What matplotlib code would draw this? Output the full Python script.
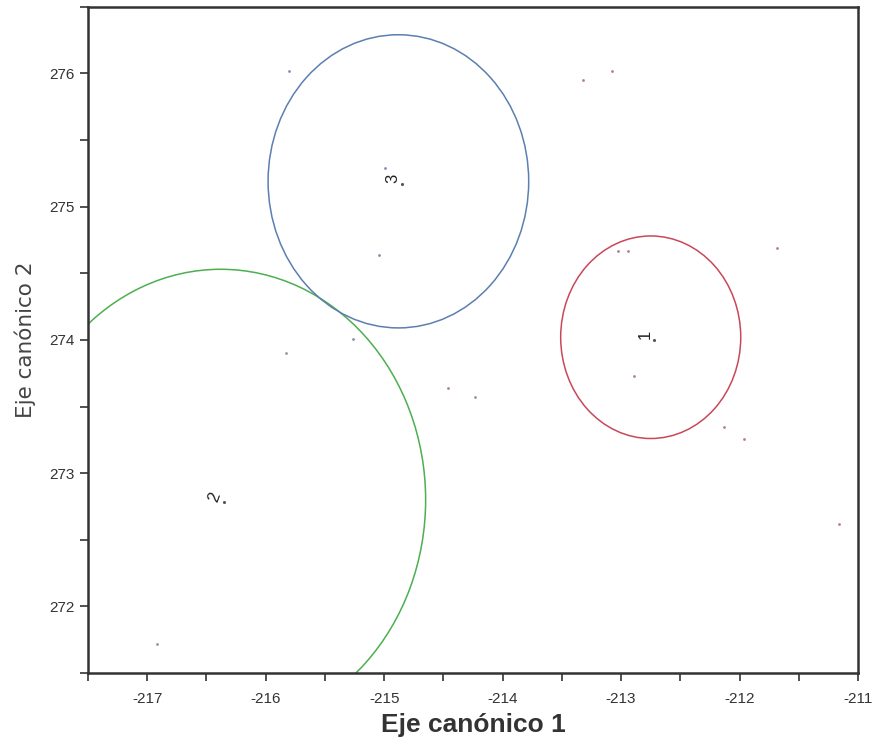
import matplotlib
matplotlib.use("Agg")
import matplotlib.pyplot as plt
from matplotlib.patches import Circle
from matplotlib.ticker import MultipleLocator

plt.rcParams["axes.unicode_minus"] = False
plt.rcParams["font.family"] = ["Liberation Sans", "DejaVu Sans"]

# Group centroids on the two canonical axes and their confidence radii
groups = ["1", "2", "3"]
centre_x = [-212.75, -216.38, -214.88]
centre_y = [274.02, 272.80, 275.19]
radius = [0.76, 1.73, 1.10]
ring_colors = ["#c8485a", "#4caf50", "#5b7fb0"]
label_rot = [90, 70, 90]

# Individual observations per group
obs1_x = [-213.32, -213.08, -213.03, -212.94, -211.68, -212.89, -212.13, -211.96, -214.46, -211.16]
obs1_y = [275.95, 276.02, 274.67, 274.67, 274.69, 273.73, 273.35, 273.26, 273.64, 272.62]
obs2_x = [-215.83, -214.23, -216.92]
obs2_y = [273.90, 273.57, 271.72]
obs3_x = [-215.80, -214.99, -215.04, -215.26]
obs3_y = [276.02, 275.29, 274.64, 274.01]

fig = plt.figure(figsize=(8.75, 7.52), dpi=100)
ax = fig.add_axes([0.1006, 0.105, 0.880, 0.886])

ax.scatter(obs1_x, obs1_y, s=4, color="#b08088", linewidths=0)
ax.scatter(obs2_x, obs2_y, s=4, color="#909a92", linewidths=0)
ax.scatter(obs3_x, obs3_y, s=4, color="#8090b0", linewidths=0)

for g, cx, cy, r, col, rot in zip(groups, centre_x, centre_y, radius, ring_colors, label_rot):
    ax.add_patch(Circle((cx, cy), r, fill=False, edgecolor=col, linewidth=1.1))
    ax.scatter([cx + 0.03], [cy - 0.02], s=5, color="#555555", linewidths=0)
    ax.text(cx - 0.05, cy + 0.02, g, rotation=rot, ha="center", va="center",
            fontsize=12, color="#222222")

ax.set_xlim(-217.5, -211)
ax.set_ylim(271.5, 276.5)
ax.xaxis.set_major_locator(MultipleLocator(1))
ax.xaxis.set_minor_locator(MultipleLocator(0.5))
ax.yaxis.set_major_locator(MultipleLocator(1))
ax.yaxis.set_minor_locator(MultipleLocator(0.5))
ax.tick_params(which="both", direction="out", length=6, width=1.2, color="#333333",
               labelsize=11, labelcolor="#333333")
ax.tick_params(axis="x", pad=8)
for sp in ax.spines.values():
    sp.set_linewidth(1.8)
    sp.set_color("#333333")

ax.set_xlabel("Eje canónico 1", fontsize=19, fontweight="bold",
              color="#333333", labelpad=5)
ax.set_ylabel("Eje canónico 2", fontsize=15.5, color="#444444", labelpad=10,
              family="DejaVu Sans")

fig.savefig("out.png", dpi=100)
plt.close(fig)
